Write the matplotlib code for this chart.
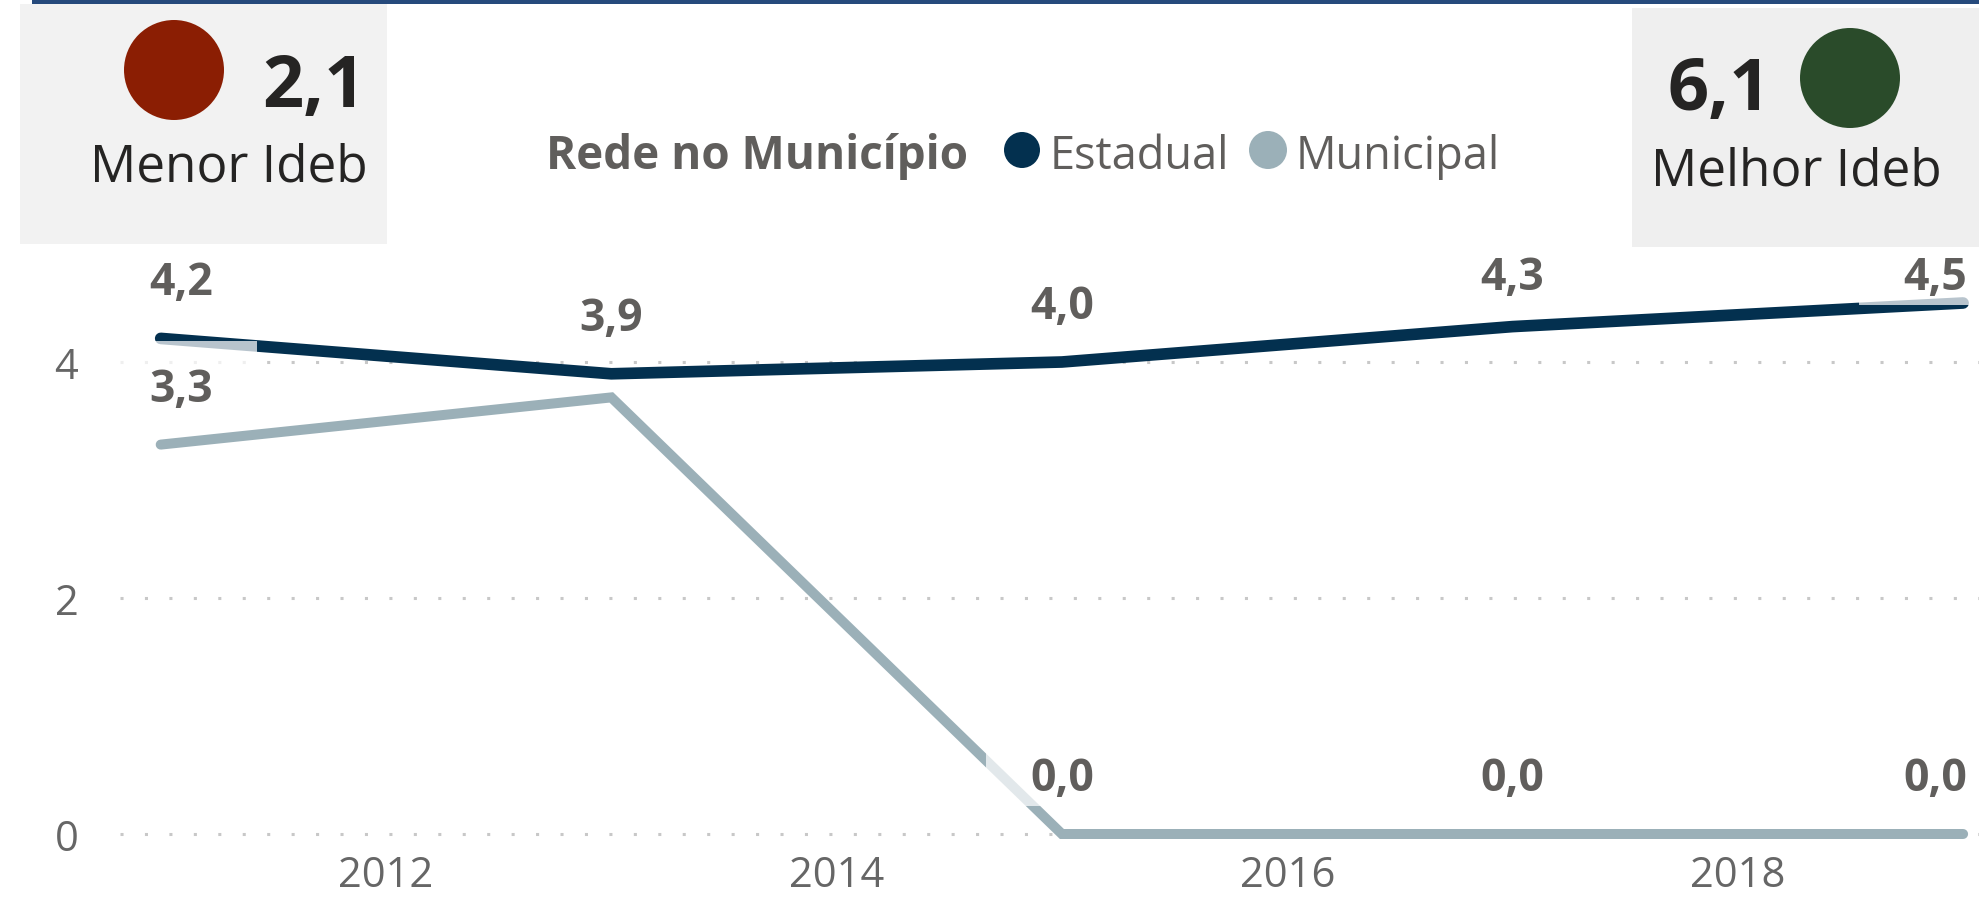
import matplotlib
matplotlib.use("Agg")
import matplotlib.pyplot as plt
from matplotlib.patches import Rectangle, Circle

# ---------------- data ----------------
years = [2011, 2013, 2015, 2017, 2019]
estadual = [4.2, 3.9, 4.0, 4.3, 4.5]
municipal = [3.3, 3.7, 0.0, 0.0, 0.0]
estadual_show = [True, True, True, True, True]
municipal_show = [True, False, True, True, True]
x_ticks = [2012, 2014, 2016, 2018]
y_ticks = [0, 2, 4]
series_names = ["Estadual", "Municipal"]
legend_title = "Rede no Município"
menor_value, menor_text = "2,1", "Menor Ideb"
melhor_value, melhor_text = "6,1", "Melhor Ideb"

# ---------------- style ----------------
plt.rcParams["font.family"] = ["Open Sans", "DejaVu Sans"]
C_EST = "#03304f"
C_MUN = "#9bb0b8"
C_LABEL = "#605e5c"
C_DARK = "#252423"

W, H = 1979, 903
fig = plt.figure(figsize=(W / 100, H / 100), dpi=100)

# ---------------- main chart ----------------
ax_l, ax_r, ax_t, ax_b = 120, 1979, 250, 850
ax = fig.add_axes([ax_l / W, (H - ax_b) / H, (ax_r - ax_l) / W, (ax_b - ax_t) / H], zorder=1)
ax.patch.set_alpha(0)
px_year = 225.3
px_unit = 118.0
ax.set_xlim(2012 - (386 - ax_l) / px_year, 2012 + (ax_r - 386) / px_year)
ax.set_ylim(-(ax_b - 835) / px_unit, (835 - ax_t) / px_unit)

for s in ax.spines.values():
    s.set_visible(False)
ax.set_xticks(x_ticks)
ax.set_xticklabels([str(t) for t in x_ticks])
ax.set_yticks(y_ticks)
ax.set_yticklabels([str(t) for t in y_ticks])
ax.tick_params(axis="both", length=0, labelsize=30, labelcolor="#666666")
ax.tick_params(axis="x", pad=3.5)
ax.tick_params(axis="y", pad=30)
ax.yaxis.grid(True, linestyle=(0, (1, 7)), linewidth=2.2, color="#c8c8c8")
ax.set_axisbelow(True)

ax.plot(years, municipal, color=C_MUN, lw=7.2, solid_capstyle="round",
        solid_joinstyle="miter", zorder=3, clip_on=False)
ax.plot(years, estadual, color=C_EST, lw=8.4, solid_capstyle="round",
        solid_joinstyle="round", zorder=4, clip_on=False)


def fmt(v):
    return f"{v:.1f}".replace(".", ",")


LABEL_TOP_LIMIT = 258      # px from top: labels are kept below this line
CAP = 32                   # cap height of label text, px
labels = []
for vals, show in ((estadual, estadual_show), (municipal, municipal_show)):
    n = len(years)
    for i, (x, v, s) in enumerate(zip(years, vals, show)):
        if not s:
            continue
        dx = 20 if i == 0 else (-28 if i == n - 1 else 0)
        px, py = ax.transData.transform((x, v))
        top_px = H - py                     # point position from top
        off = min(44, top_px - LABEL_TOP_LIMIT - CAP)
        t = ax.annotate(fmt(v), (x, v), xytext=(dx * 0.72, off * 0.72),
                        textcoords="offset points", ha="center", va="baseline",
                        fontsize=32, fontweight="bold", color=C_LABEL, zorder=6,
                        annotation_clip=False)
        labels.append((t, py + off))

# semi-transparent label backgrounds (as in the original rendering)
fig.canvas.draw()
r = fig.canvas.get_renderer()
for t, base_disp in labels:
    bb = t.get_window_extent(renderer=r)
    x0 = max(bb.x0 - 44, ax_l)
    x1 = min(bb.x1 + 44, ax_r - 8)
    y0 = base_disp - 16
    y1 = base_disp + CAP + 28
    ax.add_patch(Rectangle((x0, y0), x1 - x0, y1 - y0, transform=None,
                           fc="white", ec="none", alpha=0.72, zorder=5, clip_on=False))

# ---------------- cards, legend (pixel coordinates) ----------------
bg = fig.add_axes([0, 0, 1, 1], zorder=2)
bg.set_xlim(0, W)
bg.set_ylim(H, 0)
bg.axis("off")

bg.add_patch(Rectangle((32, 0), W - 32, 5, fc="#264a7c", ec="none"))
# left card
bg.add_patch(Rectangle((20, 5), 367, 240, fc="#f2f2f2", ec="none"))
bg.add_patch(Circle((174, 71), 50, fc="#8b1e03", ec="none"))
bg.text(262, 107, menor_value, fontsize=52, fontweight="bold", color=C_DARK,
        ha="left", va="baseline")
bg.text(229, 182, menor_text, fontsize=37, color=C_DARK, ha="center", va="baseline")
# right card
bg.add_patch(Rectangle((1632, 9), W - 1632, 239, fc="#efefef", ec="none"))
bg.add_patch(Circle((1850, 79), 50, fc="#2a4b2a", ec="none"))
bg.text(1771, 110, melhor_value, fontsize=52, fontweight="bold", color=C_DARK,
        ha="right", va="baseline")
bg.text(1796, 185, melhor_text, fontsize=37, color=C_DARK, ha="center", va="baseline")
# legend
bg.text(546, 169, legend_title, fontsize=33, fontweight="bold", color=C_LABEL,
        ha="left", va="baseline")
bg.add_patch(Circle((1022, 151), 18, fc=C_EST, ec="none"))
bg.text(1050, 169, series_names[0], fontsize=32.5, color=C_LABEL, ha="left", va="baseline")
bg.add_patch(Circle((1268, 151), 19, fc=C_MUN, ec="none"))
bg.text(1296, 169, series_names[1], fontsize=32.5, color=C_LABEL, ha="left", va="baseline")

fig.savefig("out.png", dpi=100)
